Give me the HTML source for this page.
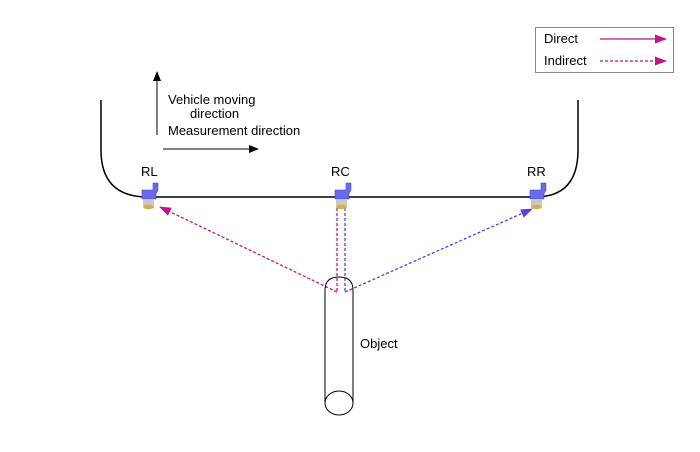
<!DOCTYPE html>
<html><head><style>body{margin:0;background:#fff}svg{display:block}text{font-family:"Liberation Sans",sans-serif;font-size:13px;fill:#000}</style></head>
<body>
<svg width="700" height="452" viewBox="0 0 700 452">
<defs>
<marker id="am" markerWidth="12" markerHeight="9" refX="11" refY="4.5" orient="auto" markerUnits="userSpaceOnUse"><path d="M0,0 L12,4.5 L0,9 z" fill="#c0168c"/></marker>
<marker id="ab" markerWidth="12" markerHeight="9" refX="11" refY="4.5" orient="auto" markerUnits="userSpaceOnUse"><path d="M0,0 L12,4.5 L0,9 z" fill="#5a3ee0"/></marker>
<marker id="ak" markerWidth="10" markerHeight="8" refX="9" refY="4" orient="auto" markerUnits="userSpaceOnUse"><path d="M0,0 L10,4 L0,8 z" fill="#000"/></marker>
</defs>
<rect x="535.5" y="27.5" width="138" height="45" fill="#fff" stroke="#888"/>
<text x="544" y="43">Direct</text>
<text x="544" y="65">Indirect</text>
<line x1="600" y1="39" x2="666" y2="39" stroke="#c0168c" stroke-width="1.2" marker-end="url(#am)"/>
<line x1="600" y1="61" x2="666" y2="61" stroke="#c0168c" stroke-width="1.2" stroke-dasharray="3,2" marker-end="url(#am)"/>
<path d="M101,100 L101,150 Q101,197 148,197 L535,197 Q578,197 578,150 L578,100" fill="none" stroke="#000" stroke-width="1.5"/>
<line x1="157" y1="135" x2="157" y2="72" stroke="#000" marker-end="url(#ak)"/>
<line x1="163" y1="149" x2="258" y2="149" stroke="#000" marker-end="url(#ak)"/>
<text x="168" y="104">Vehicle moving</text>
<text x="190" y="118">direction</text>
<text x="168" y="135">Measurement direction</text>
<text x="141" y="176">RL</text>
<text x="331" y="176">RC</text>
<text x="527" y="176">RR</text>
<line x1="337" y1="292" x2="160" y2="207" stroke="#c0168c" stroke-width="1.3" stroke-dasharray="3,2" marker-end="url(#am)"/>
<line x1="345" y1="292" x2="532" y2="209" stroke="#5a3ee0" stroke-width="1.3" stroke-dasharray="3,2" marker-end="url(#ab)"/>
<line x1="337" y1="208" x2="337" y2="292" stroke="#c0168c" stroke-width="1.3" stroke-dasharray="3,2"/>
<line x1="345" y1="208" x2="345" y2="292" stroke="#5a3ee0" stroke-width="1.3" stroke-dasharray="3,2"/>
<path d="M325,403 L325,290 Q325,277 339,277 Q353,277 353,290 L353,403" fill="none" stroke="#000"/>
<ellipse cx="339" cy="403" rx="14" ry="12" fill="none" stroke="#000"/>
<text x="360" y="348">Object</text>
<g transform="translate(141,183)"><path d="M1,7 h11 v-7 h5 v7 l-2,4 v5 h-14z" fill="#6a6af0" stroke="#3a3aa0" stroke-width="0.5"/><rect x="2" y="16" width="11" height="7" fill="#c8c8c8"/><ellipse cx="7.5" cy="24" rx="5.5" ry="2.2" fill="#d6b040"/></g>
<g transform="translate(334,183)"><path d="M1,7 h11 v-7 h5 v7 l-2,4 v5 h-14z" fill="#6a6af0" stroke="#3a3aa0" stroke-width="0.5"/><rect x="2" y="16" width="11" height="7" fill="#c8c8c8"/><ellipse cx="7.5" cy="24" rx="5.5" ry="2.2" fill="#d6b040"/></g>
<g transform="translate(529,183)"><path d="M1,7 h11 v-7 h5 v7 l-2,4 v5 h-14z" fill="#6a6af0" stroke="#3a3aa0" stroke-width="0.5"/><rect x="2" y="16" width="11" height="7" fill="#c8c8c8"/><ellipse cx="7.5" cy="24" rx="5.5" ry="2.2" fill="#d6b040"/></g>
</svg>
</body></html>
